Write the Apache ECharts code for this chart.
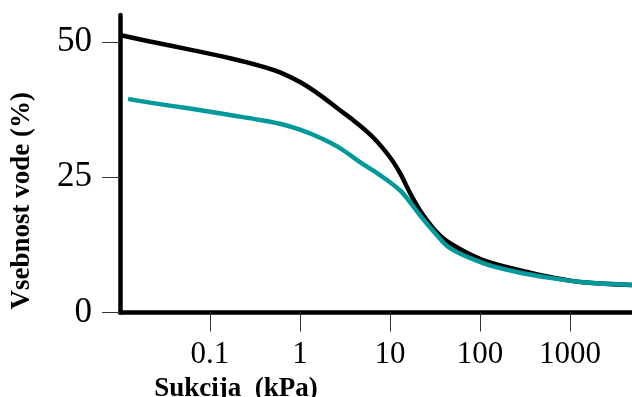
<!DOCTYPE html>
<html>
<head>
<meta charset="utf-8">
<script src="https://cdn.jsdelivr.net/npm/echarts@6/dist/echarts.min.js"></script>
<style>html,body{margin:0;padding:0;background:#fff}#c{width:632px;height:397px}</style>
</head>
<body>
<div id="c"></div>
<script>
// Suction (kPa) and water content (%)
const suctionA = [0.01, 0.0215, 0.0599, 0.167, 0.359, 0.599, 1, 1.67, 2.78, 3.88, 6.47, 10, 12.9, 16.7, 21.5, 31.6, 46.4, 108, 333, 600, 1395, 4890];
const waterA   = [51.3, 50.1, 48.6, 47.0, 45.6, 44.4, 42.6, 40.2, 37.4, 35.6, 32.4, 28.7, 25.8, 22.1, 18.9, 15.2, 12.8, 9.7, 7.5, 6.55, 5.6, 5.1];
const suctionB = [0.0123, 0.0215, 0.0599, 0.167, 0.359, 0.599, 1, 1.67, 2.78, 4.64, 7.74, 12.9, 16.7, 21.5, 31.6, 46.4, 108, 258, 600, 1395, 4890];
const waterB   = [39.5, 38.8, 37.7, 36.5, 35.6, 34.9, 33.8, 32.3, 30.4, 27.8, 25.4, 22.6, 20.4, 18.0, 14.7, 11.9, 9.15, 7.5, 6.4, 5.6, 5.1];
const xTicks = [0.1, 1, 10, 100, 1000];
const yTicks = [0, 25, 50];
const xTitle = 'Sukcija  (kPa)';
const yTitle = 'Vsebnost vode (%)';

const serif = '"Liberation Serif", "DejaVu Serif", serif';
const chart = echarts.init(document.getElementById('c'), null, {renderer: 'canvas'});
chart.setOption({
  animation: false,
  backgroundColor: '#fff',
  grid: {left: 120, right: 0, top: 15, bottom: 84.5, containLabel: false, outerBoundsMode: 'none'},
  xAxis: {
    type: 'log', logBase: 10, min: 0.01, max: 4890,
    name: xTitle, nameLocation: 'middle', nameGap: 61,
    nameTextStyle: {fontFamily: serif, fontWeight: 'bold', fontSize: 27, color: '#000', padding: [0, 280, 0, 0]},
    axisLine: {show: true, lineStyle: {color: '#000', width: 4.5}},
    axisTick: {show: true, length: 19, lineStyle: {color: '#333', width: 1}, customValues: xTicks},
    axisLabel: {customValues: xTicks, margin: 27, fontFamily: serif, fontSize: 31, color: '#000',
      formatter: v => String(v)},
    splitLine: {show: false}, minorTick: {show: false}
  },
  yAxis: {
    type: 'value', min: 0, max: 55,
    name: yTitle, nameLocation: 'middle', nameGap: 84, nameRotate: 90,
    nameTextStyle: {fontFamily: serif, fontWeight: 'bold', fontSize: 27, color: '#000', padding: [0, 74, 0, 0]},
    axisLine: {show: true, lineStyle: {color: '#000', width: 4.5}},
    axisTick: {show: true, length: 18, lineStyle: {color: '#333', width: 1}, customValues: yTicks},
    axisLabel: {customValues: yTicks, margin: 28, fontFamily: serif, fontSize: 35, color: '#000'},
    splitLine: {show: false}
  },
  series: [
    {type: 'line', data: suctionA.map((s, i) => [s, waterA[i]]), smooth: 0.35, showSymbol: false,
      lineStyle: {color: '#000', width: 4.5}, z: 2},
    {type: 'line', data: suctionB.map((s, i) => [s, waterB[i]]), smooth: 0.35, showSymbol: false,
      lineStyle: {color: '#009999', width: 4.5}, z: 3}
  ]
});
</script>
</body>
</html>
